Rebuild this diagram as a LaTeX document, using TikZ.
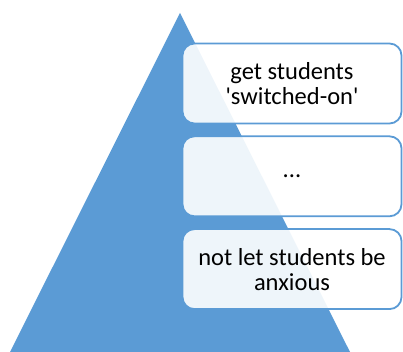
\documentclass[tikz,border=0pt]{standalone}
\usepackage{fontspec}
\setmainfont{Carlito}
\usetikzlibrary{positioning}
\definecolor{pyrblue}{RGB}{91,155,213}
\tikzset{
  every node/.style={font=\fontsize{24.5}{25}\selectfont}
}
\tikzset{pyr box/.style={draw=#1,line width=1.8pt,rounded corners=12pt,fill=white,fill opacity=0.9,text opacity=1,
  minimum width=219pt,minimum height=80pt,align=center}}

\begin{document}
\begin{tikzpicture}[x=1pt,y=1pt]
  \useasboundingbox (0,0) rectangle (403,352);

  \fill [pyrblue] (180,339) -- (10,0) -- (350,0) -- cycle;
  \node [pyr box = pyrblue] (G) at (292,268.5)        {get students\\\textquotesingle switched-on\textquotesingle};
  \node [pyr box = pyrblue, below=11pt of G] (D)      {...};
  \node [pyr box = pyrblue, below=11pt of D] (N)      {not let students be\\anxious};

\end{tikzpicture}
\end{document}
